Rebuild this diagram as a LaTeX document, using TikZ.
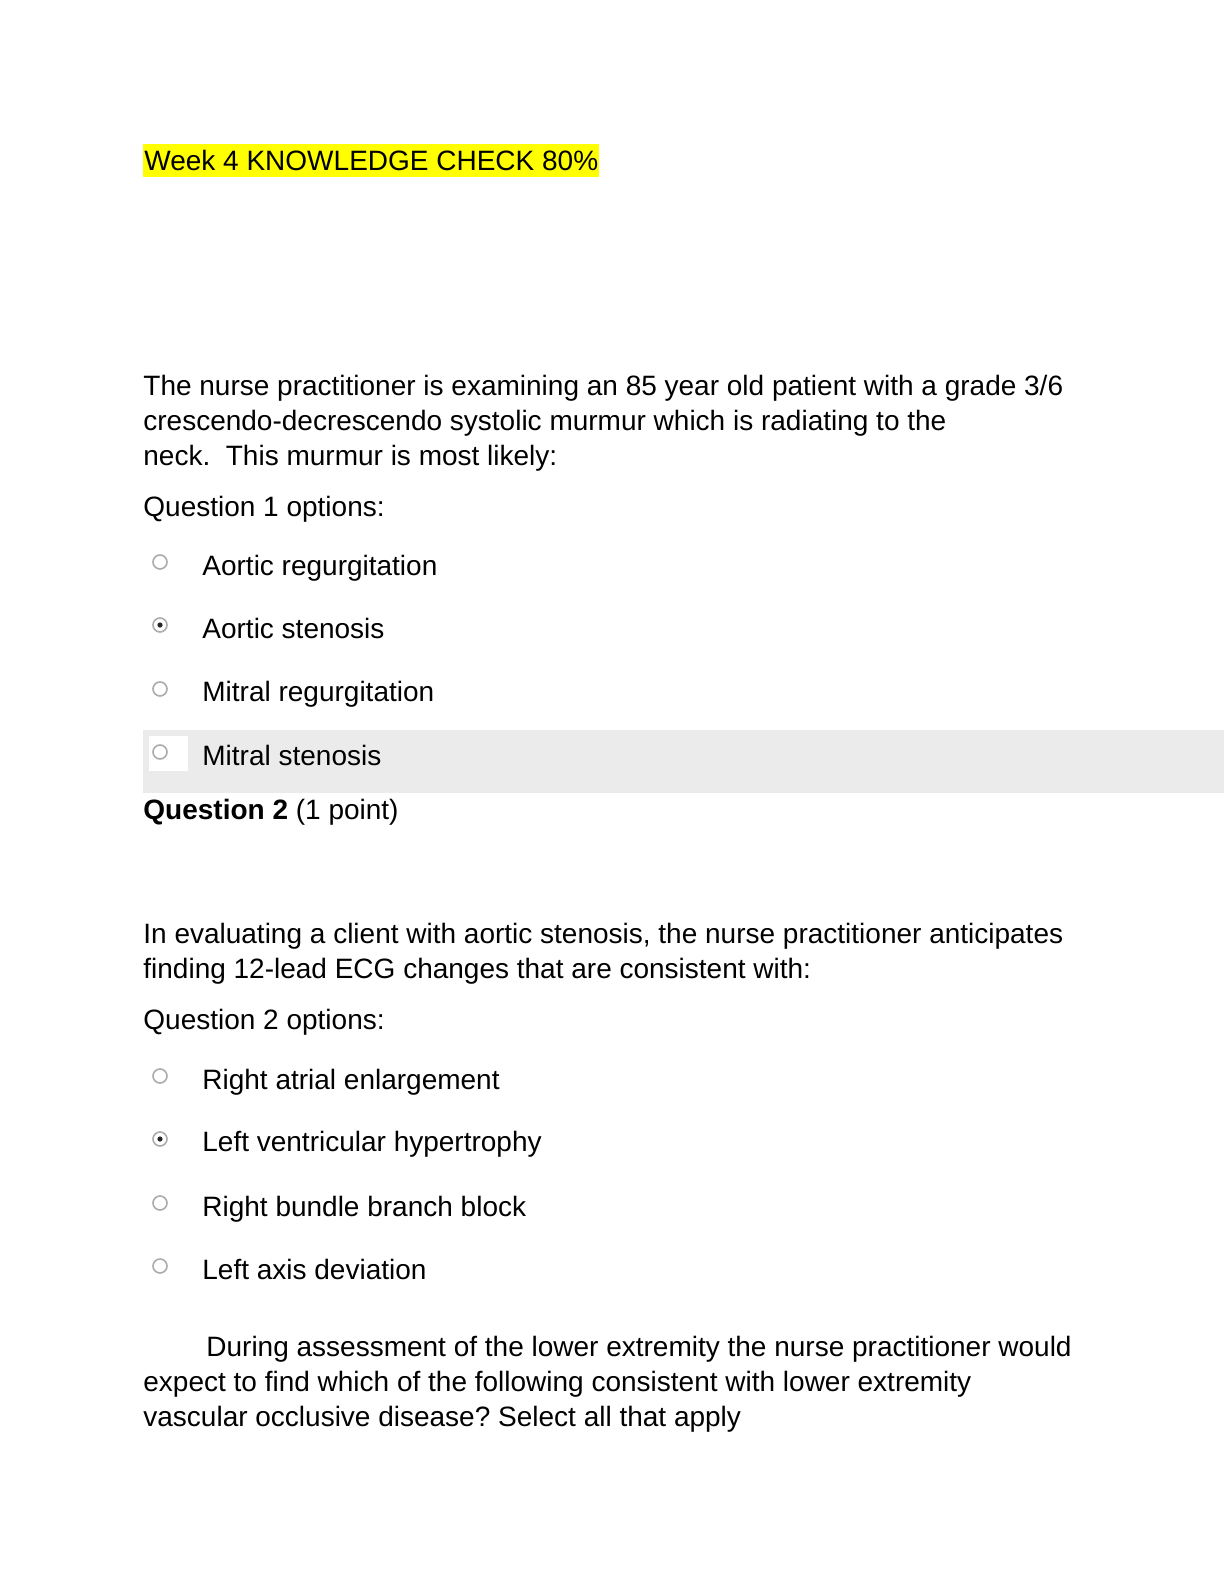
\documentclass[tikz,border=0pt]{standalone}
\usepackage{fontspec}
\setmainfont{Liberation Sans}
\frenchspacing
\definecolor{bandgray}{HTML}{EBEBEB}
\definecolor{hiyellow}{HTML}{FFFF00}
\tikzset{
  txt/.style={anchor=base west, inner sep=0pt, font=\fontsize{14}{17}\selectfont},
  radio/.style={draw=gray!65, circle, line width=0.8pt, fill=white, minimum size=7pt, inner sep=0pt},
  picked/.style={radio, path picture={\fill[black!85] (path picture bounding box.center) circle (1.3pt);}}
}
\begin{document}
\begin{tikzpicture}[x=0.5pt,y=-0.5pt]
\useasboundingbox[fill=white] (0,0) rectangle (1224,1584);

\fill[hiyellow] (143,144) rectangle (599,177);
\node[txt] (title) at (144,170) {Week 4 KNOWLEDGE CHECK 80\%};

\node[txt] (1a) at (143,395) {The nurse practitioner is examining an 85 year old patient with a grade 3/6};
\node[txt] (1b) at (143,430) {crescendo-decrescendo systolic murmur which is radiating to the};
\node[txt] (1c) at (143,465) {neck.\ \ This murmur is most likely:};
\node[txt] (1d) at (143,516) {Question 1 options:};

\fill[bandgray] (143,730) rectangle (1224,793);
\fill[white] (149,736) rectangle (188,771);

\node[radio] (r1a) at (160,562) {};
\node[picked] (r1b) at (160,625) {};
\node[radio] (r1c) at (160,689) {};
\node[radio] (r1d) at (160,752) {};
\node[txt] (o1a) at (202,575) {Aortic regurgitation};
\node[txt] (o1b) at (202,638) {Aortic stenosis};
\node[txt] (o1c) at (202,701) {Mitral regurgitation};
\node[txt] (o1d) at (202,765) {Mitral stenosis};

\node[txt] (2h) at (143,819) {\textbf{Question 2} (1 point)};

\node[txt] (2a) at (143,943) {In evaluating a client with aortic stenosis, the nurse practitioner anticipates};
\node[txt] (2b) at (143,978) {finding 12-lead ECG changes that are consistent with:};
\node[txt] (2c) at (143,1029) {Question 2 options:};

\node[radio] (r2a) at (160,1076) {};
\node[picked] (r2b) at (160,1139) {};
\node[radio] (r2c) at (160,1203) {};
\node[radio] (r2d) at (160,1266) {};
\node[txt] (o2a) at (202,1089) {Right atrial enlargement};
\node[txt] (o2b) at (202,1151) {Left ventricular hypertrophy};
\node[txt] (o2c) at (202,1216) {Right bundle branch block};
\node[txt] (o2d) at (202,1279) {Left axis deviation};

\node[txt] (3a) at (206,1356) {During assessment of the lower extremity the nurse practitioner would};
\node[txt] (3b) at (143,1391) {expect to find which of the following consistent with lower extremity};
\node[txt] (3c) at (143,1426) {vascular occlusive disease? Select all that apply};
\end{tikzpicture}
\end{document}
